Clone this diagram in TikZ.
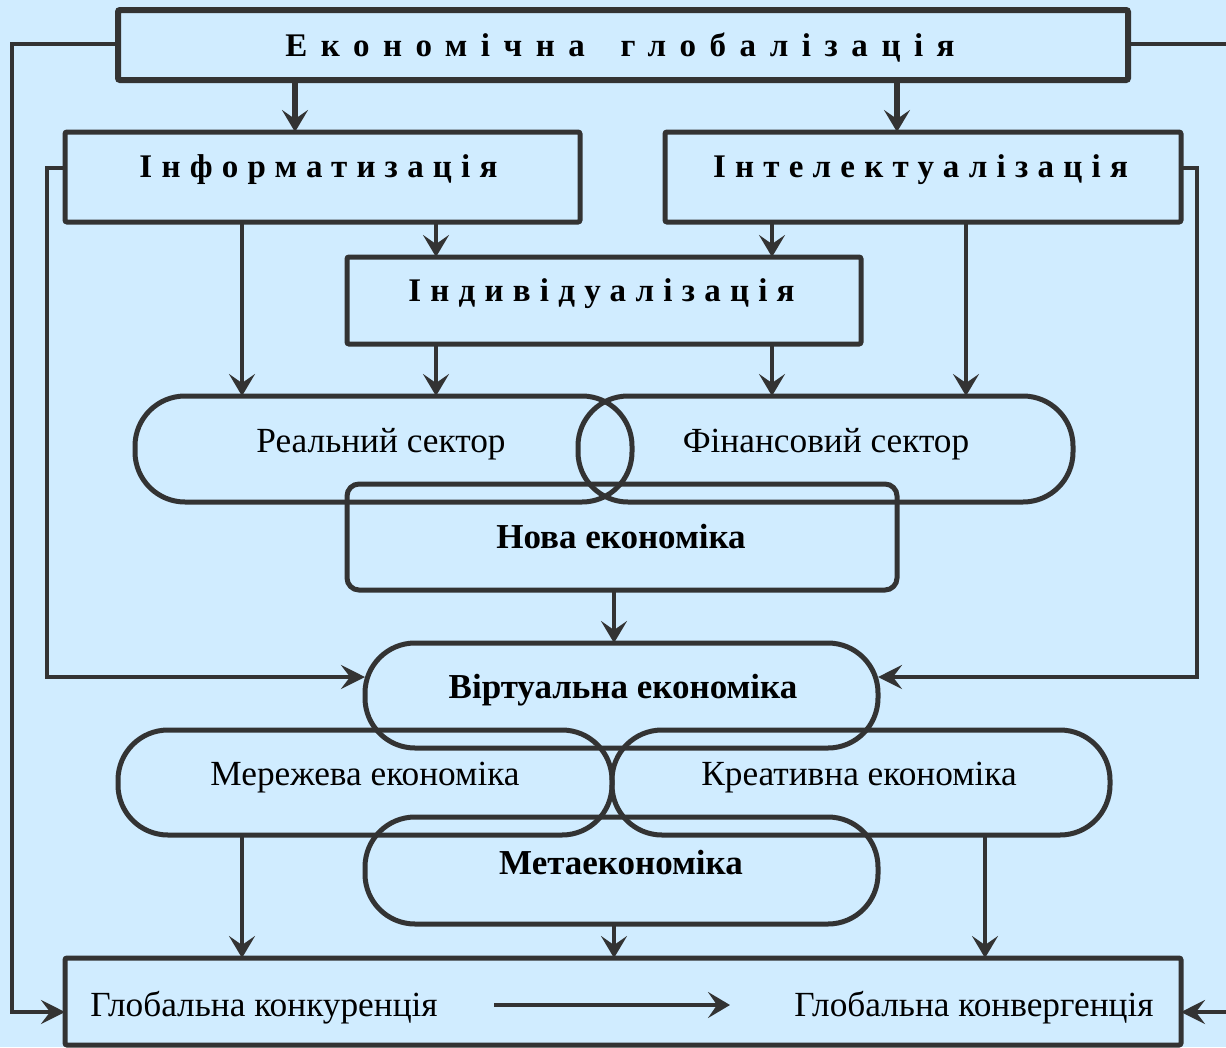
\documentclass[tikz,border=0pt]{standalone}
\usepackage{fontspec}
\setmainfont{Liberation Serif}
\newfontfamily\spacedfont[LetterSpace=28]{Liberation Serif}
\newfontfamily\widefont[LetterSpace=41]{Liberation Serif}
\usetikzlibrary{arrows.meta}
\definecolor{bg}{RGB}{208,236,255}
\definecolor{lc}{RGB}{51,51,51}
\begin{document}
\begin{tikzpicture}[x=1pt,y=-1pt,
  every node/.style={inner sep=0pt,outer sep=0pt},
  box/.style={draw=lc,line width=5pt,rectangle,rounded corners=2pt},
  stad/.style={draw=lc,line width=5pt,rectangle,rounded corners=50pt},
  head/.style={anchor=base,font=\spacedfont\bfseries\fontsize{33}{38}\selectfont},
  tophead/.style={anchor=base,font=\widefont\bfseries\fontsize{33}{38}\selectfont},
  lbl/.style={anchor=base,font=\fontsize{35.3}{40}\selectfont},
  blbl/.style={anchor=base,font=\bfseries\fontsize{35}{40}\selectfont},
  arr/.style={draw=lc,line width=4.5pt,-{Stealth[length=22pt,width=26pt,inset=9pt]}},
  lin/.style={draw=lc,line width=4pt},
  larr/.style={draw=lc,line width=4pt,-{Stealth[length=24pt,width=24pt,inset=9pt]}}]
\fill[bg] (0,0) rectangle (1226,1047);
\useasboundingbox (0,0) rectangle (1226,1047);
% boxes
\node[box,line width=6pt,minimum width=1010pt,minimum height=70pt] (top) at (623,45) {};
\node[box,minimum width=515pt,minimum height=90pt] (inform) at (322.5,177) {};
\node[box,minimum width=516pt,minimum height=90pt] (intel) at (923,177) {};
\node[box,minimum width=514pt,minimum height=87pt] (indiv) at (604,300.5) {};
\node[stad,minimum width=497pt,minimum height=106pt] (real) at (383.5,449) {};
\node[stad,minimum width=495pt,minimum height=106pt] (fin) at (825.5,449) {};
\node[box,rounded corners=12pt,minimum width=550pt,minimum height=106pt] (nova) at (622,537) {};
\node[stad,minimum width=513pt,minimum height=105pt] (virt) at (621.5,695.5) {};
\node[stad,minimum width=494pt,minimum height=105pt] (mer) at (365,782.5) {};
\node[stad,minimum width=498pt,minimum height=105pt] (kre) at (861,782.5) {};
\node[stad,minimum width=513pt,minimum height=107pt] (meta) at (621.5,870.5) {};
\node[box,minimum width=1116pt,minimum height=87pt] (bot) at (623,1001.5) {};
% labels
\node[tophead] (topt) at (620,56) {Економічна \hspace{14pt}глобалізація};
\node[head] (informt) at (318.5,177) {Інформатизація};
\node[head] (intelt) at (920.5,177) {Інтелектуалізація};
\node[head] (indivt) at (601.5,301) {Індивідуалізація};
\node[lbl] (realt) at (381,452) {Реальний сектор};
\node[lbl] (fint) at (826,452) {Фінансовий сектор};
\node[blbl] (novat) at (621,548) {Нова економіка};
\node[blbl] (virtt) at (623,698) {Віртуальна економіка};
\node[lbl] (mert) at (365,785) {Мережева економіка};
\node[lbl] (kret) at (859,785) {Креативна економіка};
\node[blbl] (metat) at (621,874) {Метаекономіка};
\node[lbl] (k1) at (264,1016) {Глобальна конкуренція};
\node[lbl] (k2) at (974,1016) {Глобальна конвергенція};
% helper positions
\coordinate (xa) at (295,0);
\coordinate (xb) at (897,0);
\coordinate (xc) at (242,0);
\coordinate (xd) at (436,0);
\coordinate (xe) at (772,0);
\coordinate (xf) at (966,0);
\coordinate (xg) at (614,0);
\coordinate (xh) at (985,0);
\coordinate (yv) at (0,677);
\coordinate (yb) at (0,1012);
\coordinate (yt) at (0,44);
\coordinate (yi) at (0,168);
\coordinate (ol) at (12,44);
\coordinate (olb) at (12,1012);
\coordinate (or) at (1226,44);
\coordinate (orb) at (1226,1012);
\coordinate (il) at (47,168);
\coordinate (ilb) at (47,677);
\coordinate (ir) at (1197,168);
\coordinate (irb) at (1197,677);
\coordinate (ka) at (494,1005);
\coordinate (kb) at (730,1005);
% arrows
\draw[arr,line width=6pt] (top.south -| xa) -- (inform.north -| xa);
\draw[arr,line width=6pt] (top.south -| xb) -- (intel.north -| xb);
\draw[arr] (inform.south -| xc) -- (real.north -| xc);
\draw[arr] (inform.south -| xd) -- (indiv.north -| xd);
\draw[arr] (intel.south -| xe) -- (indiv.north -| xe);
\draw[arr] (intel.south -| xf) -- (fin.north -| xf);
\draw[arr] (indiv.south -| xd) -- (real.north -| xd);
\draw[arr] (indiv.south -| xe) -- (fin.north -| xe);
\draw[arr] (nova.south -| xg) -- (virt.north -| xg);
\draw[larr] (inform.west |- yi) -- (il) -- (ilb) -- (virt.west |- yv);
\draw[larr] (intel.east |- yi) -- (ir) -- (irb) -- (virt.east |- yv);
\draw[arr,line width=4pt] (mer.south -| xc) -- (bot.north -| xc);
\draw[arr,line width=4pt] (meta.south -| xg) -- (bot.north -| xg);
\draw[arr,line width=4pt] (kre.south -| xh) -- (bot.north -| xh);
\draw[larr] (top.west |- yt) -- (ol) -- (olb) -- (bot.west |- yb);
\draw[lin] (top.east |- yt) -- (or);
\draw[larr] (orb) -- (bot.east |- yb);
\draw[arr] (ka) -- (kb);
\end{tikzpicture}
\end{document}
